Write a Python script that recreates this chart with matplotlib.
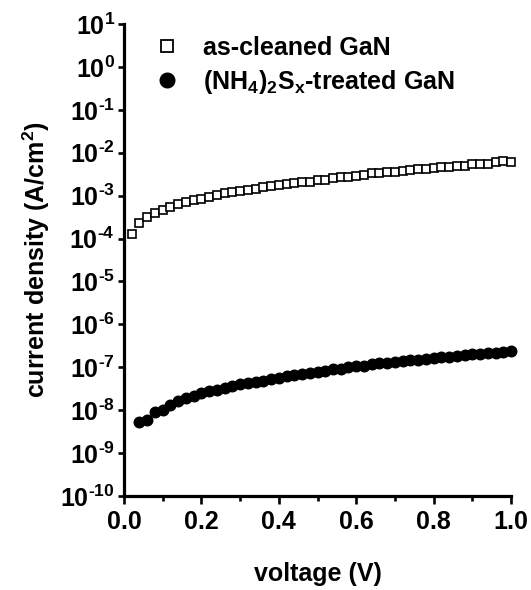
import numpy as np
import matplotlib
matplotlib.use("Agg")
import matplotlib.pyplot as plt
from matplotlib.lines import Line2D
from matplotlib.ticker import FixedLocator, FixedFormatter, MultipleLocator

plt.rcParams['font.family'] = ['Liberation Sans', 'DejaVu Sans']
plt.rcParams['font.weight'] = 'bold'
plt.rcParams['mathtext.fontset'] = 'custom'
plt.rcParams['mathtext.rm'] = 'Liberation Sans:bold'
plt.rcParams['mathtext.bf'] = 'Liberation Sans:bold'
plt.rcParams['mathtext.it'] = 'Liberation Sans:bold'
plt.rcParams['mathtext.default'] = 'bf'

# as-cleaned GaN, voltage (V) and log10 of current density (A/cm2)
v_clean = [0.02, 0.04, 0.06, 0.08, 0.10, 0.12, 0.14, 0.16, 0.18, 0.20,
           0.22, 0.24, 0.26, 0.28, 0.30, 0.32, 0.34, 0.36, 0.38, 0.40,
           0.42, 0.44, 0.46, 0.48, 0.50, 0.52, 0.54, 0.56, 0.58, 0.60,
           0.62, 0.64, 0.66, 0.68, 0.70, 0.72, 0.74, 0.76, 0.78, 0.80,
           0.82, 0.84, 0.86, 0.88, 0.90, 0.92, 0.94, 0.96, 0.98, 1.00]
logj_clean = [-3.90, -3.64, -3.50, -3.41, -3.34, -3.27, -3.19, -3.14, -3.10, -3.09,
              -3.03, -2.98, -2.95, -2.91, -2.89, -2.87, -2.85, -2.79, -2.77, -2.75,
              -2.72, -2.71, -2.69, -2.68, -2.64, -2.64, -2.60, -2.57, -2.57, -2.54,
              -2.52, -2.48, -2.48, -2.46, -2.44, -2.42, -2.40, -2.39, -2.39, -2.36,
              -2.34, -2.33, -2.31, -2.30, -2.27, -2.26, -2.26, -2.22, -2.20, -2.21]

# (NH4)2Sx-treated GaN
v_treat = [0.04, 0.06, 0.08, 0.10, 0.12, 0.14, 0.16, 0.18, 0.20, 0.22,
           0.24, 0.26, 0.28, 0.30, 0.32, 0.34, 0.36, 0.38, 0.40, 0.42,
           0.44, 0.46, 0.48, 0.50, 0.52, 0.54, 0.56, 0.58, 0.60, 0.62,
           0.64, 0.66, 0.68, 0.70, 0.72, 0.74, 0.76, 0.78, 0.80, 0.82,
           0.84, 0.86, 0.88, 0.90, 0.92, 0.94, 0.96, 0.98, 1.00]
logj_treat = [-8.28, -8.23, -8.04, -8.00, -7.87, -7.79, -7.72, -7.66, -7.61, -7.56,
              -7.52, -7.48, -7.44, -7.40, -7.37, -7.34, -7.31, -7.28, -7.25, -7.21,
              -7.18, -7.16, -7.13, -7.11, -7.08, -7.05, -7.03, -7.00, -6.98, -6.96,
              -6.93, -6.91, -6.89, -6.87, -6.85, -6.83, -6.82, -6.80, -6.78, -6.76,
              -6.75, -6.73, -6.72, -6.70, -6.69, -6.67, -6.66, -6.65, -6.63]

y_exps = list(range(-10, 2))
x_ticks = [0.0, 0.2, 0.4, 0.6, 0.8, 1.0]

j_clean = 10.0 ** np.array(logj_clean)
j_treat = 10.0 ** np.array(logj_treat)

fig = plt.figure(figsize=(5.31, 5.90), dpi=100)
ax = fig.add_axes([124/531, 1 - 496/590, 387/531, 472/590])

ax.plot(v_clean, j_clean, linestyle='none', marker='s', markersize=5.8,
        markerfacecolor='white', markeredgecolor='black', markeredgewidth=1.2,
        clip_on=False)
ax.plot(v_treat, j_treat, linestyle='none', marker='o', markersize=7.6,
        markerfacecolor='black', markeredgecolor='black', clip_on=False)

ax.set_yscale('log')
ax.set_xlim(0.0, 1.0)
ax.set_ylim(1e-10, 1e1)

def exp_label(e):
    s = str(e).replace('-', r'\text{-}')
    return r'$\mathbf{10^{%s}}$' % s

ax.yaxis.set_major_locator(FixedLocator([10.0 ** e for e in y_exps]))
ax.yaxis.set_major_formatter(FixedFormatter([exp_label(e) for e in y_exps]))
ax.yaxis.set_minor_locator(FixedLocator([]))
ax.set_xticks(x_ticks)
ax.set_xticklabels(['%.1f' % t for t in x_ticks])
ax.xaxis.set_minor_locator(MultipleLocator(0.1))

for s in ['top', 'right']:
    ax.spines[s].set_visible(False)
for s in ['left', 'bottom']:
    ax.spines[s].set_linewidth(2.3)

ax.tick_params(axis='both', which='major', direction='out', width=1.9, labelsize=18)
ax.tick_params(axis='x', which='major', length=6, pad=4)
ax.tick_params(axis='y', which='major', length=4.5, pad=2)
ax.tick_params(axis='x', which='minor', direction='out', length=3.5, width=1.9)

ax.set_xlabel('voltage (V)', fontsize=18, fontweight='bold', labelpad=20)
ax.set_ylabel(r'current density (A/cm$^2$)', fontsize=18, fontweight='bold', labelpad=6)

handles = [
    Line2D([], [], linestyle='none', marker='s', markersize=8.5,
           markerfacecolor='white', markeredgecolor='black', markeredgewidth=1.3),
    Line2D([], [], linestyle='none', marker='o', markersize=10.5,
           markerfacecolor='black', markeredgecolor='black'),
]
labels = ['as-cleaned GaN', r'(NH$_4$)$_2$S$_x$-treated GaN']
ax.legend(handles, labels, loc='upper left', frameon=False, fontsize=18,
          bbox_to_anchor=(154/531, 1 - 36/590), bbox_transform=fig.transFigure,
          borderpad=0, borderaxespad=0, handlelength=1.0, handletextpad=0.95,
          labelspacing=0.3)

fig.savefig('out.png', dpi=100)
